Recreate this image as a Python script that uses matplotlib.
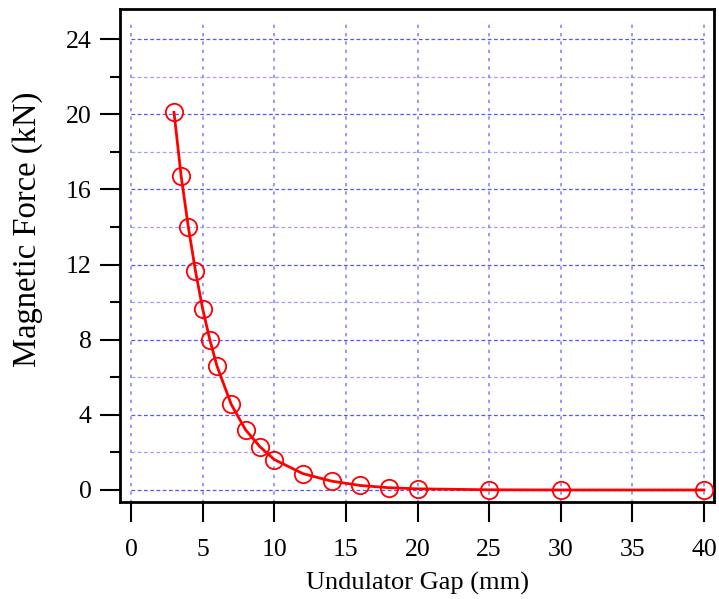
import numpy as np
import matplotlib
matplotlib.use('Agg')
import matplotlib.pyplot as plt

plt.rcParams['font.family'] = ['Liberation Serif', 'DejaVu Serif']

# undulator gap (mm) vs magnetic force (kN)
gap = [3, 3.5, 4, 4.5, 5, 5.5, 6, 7, 8, 9, 10, 12, 14, 16, 18, 20, 25, 30, 40]
force = [20.1, 16.7, 14.0, 11.65, 9.65, 8.0, 6.6, 4.55, 3.2, 2.3, 1.62, 0.87, 0.47, 0.24, 0.12, 0.06, 0.01, 0.0, 0.0]

x_ticks = [0, 5, 10, 15, 20, 25, 30, 35, 40]
y_ticks = [0, 4, 8, 12, 16, 20, 24]
y_minor = [2, 6, 10, 14, 18, 22]

fig = plt.figure(figsize=(7.19, 5.99), dpi=100)
ax = fig.add_axes([120/719, 97/599, 594/719, 493/599])

# grid (only over the data range like the original)
ax.hlines(y_ticks, 0, 40, colors='#5555ff', linestyles=(0, (3, 2)), linewidth=0.9, zorder=1)
ax.hlines(y_minor, 0, 40, colors='#a0a0ff', linestyles=(0, (3, 2)), linewidth=0.9, zorder=1)
ax.vlines(x_ticks, -0.7, 25.0, colors='#8888ff', linestyles=(0, (2, 3)), linewidth=1.2, zorder=1)

ax.plot(gap, force, color='red', linewidth=2, zorder=3)
ax.plot(gap, force, linestyle='none', marker='o', markersize=12.5,
        markerfacecolor='none', markeredgecolor='red', markeredgewidth=1.3, zorder=4)

ax.set_xlim(-0.77, 40.7)
ax.set_ylim(-0.64, 25.6)

ax.set_xticks(x_ticks)
ax.set_yticks(y_ticks)
ax.set_yticks(y_minor, minor=True)
ax.tick_params(axis='both', which='major', direction='out', length=14.5, width=1.5,
               labelsize=18.5, pad=6)
ax.tick_params(axis='y', which='minor', direction='out', length=7, width=1.5)
ax.tick_params(axis='x', pad=12.5)

for s in ax.spines.values():
    s.set_linewidth(2)

ax.set_xlabel('Undulator Gap (mm)', fontsize=19)
ax.set_ylabel('Magnetic Force (kN)', fontsize=23.5)
ax.xaxis.set_label_coords(0.5, -0.142)
ax.yaxis.set_label_coords(-0.13, 0.554)

fig.savefig('out.png', dpi=100)
